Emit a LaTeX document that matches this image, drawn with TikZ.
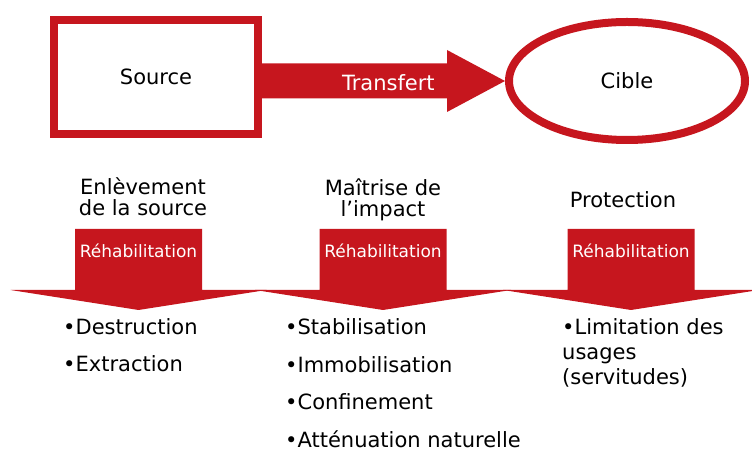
\documentclass[tikz,border=0pt]{standalone}
\usepackage{fontspec}
\setmainfont{DejaVu Sans}
\usetikzlibrary{calc,shapes.geometric}
\definecolor{rouge}{RGB}{198,22,30}
% down arrow with a wide flat head, #1 = x of its axis
\def\flechebas(#1){\fill[rouge] (#1-63.5, 229) -- (#1+63.5, 229) -- (#1+63.5, 290) -- (#1+128, 290) -- (#1, 310) -- (#1-128, 290) -- (#1-63.5, 290) -- cycle;}
\tikzset{
	grand/.style={font=\fontsize{21bp}{21bp}\selectfont},
	titre/.style={grand, align=center, inner sep=0},
	% anchored on the baseline of the last line
	liste/.style={font=\fontsize{21bp}{24.5bp}\selectfont, align=left, inner sep=0, anchor=base west},
	rehab/.style={text=white, font=\fontsize{17bp}{18bp}\selectfont, inner sep=0},
}

\begin{document}
\begin{tikzpicture}[x=1bp, y=-1bp]
		%%%%% START %%%%%
		\useasboundingbox (0,0) rectangle (752,451);
		
		\node[draw=rouge, line width=8bp, minimum width=204bp, minimum height=114bp, grand] (src) at (156,77) {Source};
		\node[ellipse, draw=rouge, line width=8bp, minimum width=236bp, minimum height=118bp, inner sep=0, grand] (cib) at (627,81) {Cible};
		
		% transfert arrow
		\fill[rouge] ($(src.east |- cib.west)+(0,-17.5)$) -- ($(cib.west)+(-58,-17.5)$) -- ($(cib.west)+(-58,-31)$) -- (cib.west) -- ($(cib.west)+(-58,31)$) -- ($(cib.west)+(-58,17.5)$) -- ($(src.east |- cib.west)+(0,17.5)$) -- cycle;
		\node[grand, text=white] (trf) at ($(src.east |- cib.west)!0.52!(cib.west)+(0,2)$) {Transfert};
		
		\flechebas(138.5)
		\flechebas(383)
		\flechebas(631)
		
		\node[rehab] (reh1) at (138.5,251) {Réhabilitation};
		\node[rehab] (reh2) at (383,251) {Réhabilitation};
		\node[rehab] (reh3) at (631,251) {Réhabilitation};
		
		\node[titre] (titre1) at (143,197) {Enlèvement\\de la source};
		\node[titre] (titre2) at (383,200) {Maîtrise de\\l’impact};
		\node[titre] (titre3) at (623,200) {Protection};
		
		\node[liste] (liste1) at (63,372) {•Destruction\\[12.5bp]•Extraction};
		\node[liste] (liste2) at (285,447) {•Stabilisation\\[13bp]•Immobilisation\\[13bp]•Confinement\\[13bp]•Atténuation naturelle};
		\node[liste] (liste3) at (562,384) {•Limitation des\\usages\\(servitudes)};
		
		%%%%% END %%%%%
\end{tikzpicture}
\end{document}
